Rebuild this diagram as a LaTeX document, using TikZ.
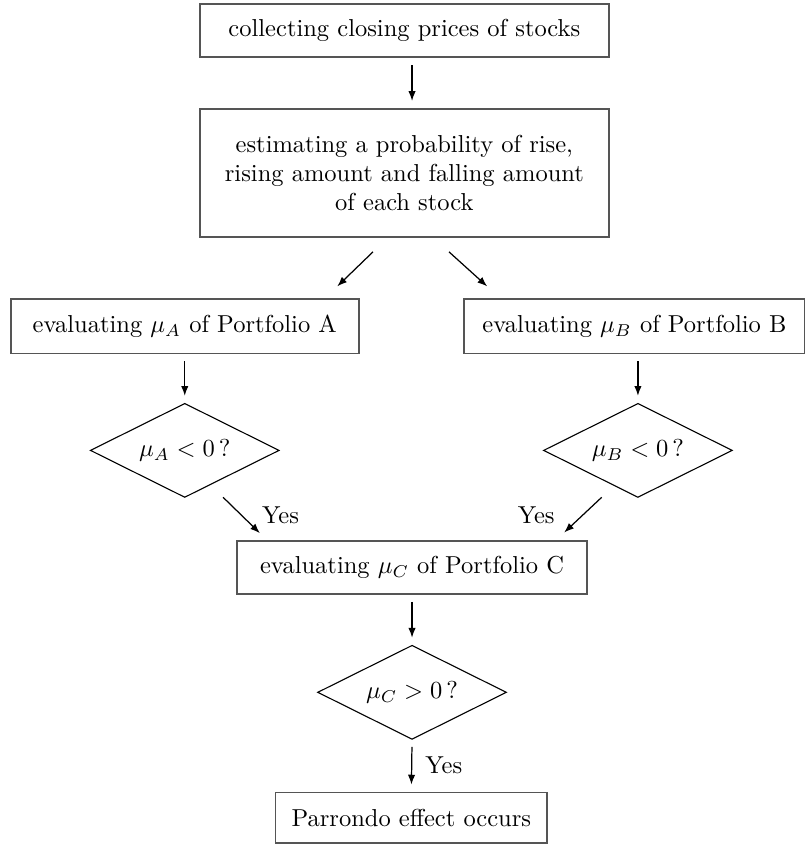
\documentclass[tikz,border=0pt]{standalone}
\usepackage{amsmath}
\usetikzlibrary{shapes.geometric, arrows.meta, positioning}
\definecolor{boxgray}{RGB}{85, 85, 85}

\begin{document}
\begin{tikzpicture}[
    process/.style={rectangle, draw=boxgray, fill=white, line width=0.7pt, align=center, inner sep=2pt, minimum height=0.76cm},
    decision/.style={diamond, draw=black, line width=0.45pt, aspect=2, minimum width=2.71cm, minimum height=1.35cm, inner sep=0pt},
    flow/.style={-{Latex[length=4pt, width=3pt]}, line width=0.5pt, draw=black},
    gap/.style={shorten <=1mm, shorten >=1mm}
  ]
  \useasboundingbox (0, 0) rectangle (11.56, -12.12);

  % Nodes
  \node[process, minimum width=5.87cm] (collect) at (5.80, -0.44) {collecting closing prices of stocks};
  \node[process, minimum width=5.87cm, minimum height=1.84cm] (estimate) at (5.80, -2.48) {estimating a probability of rise,\\ rising amount and falling amount\\ of each stock};
  \node[process, minimum width=4.99cm, minimum height=0.78cm] (evalA) at (2.65, -4.68) {evaluating $\mu_A$ of Portfolio A};
  \node[process, minimum width=4.88cm, minimum height=0.78cm] (evalB) at (9.10, -4.68) {evaluating $\mu_B$ of Portfolio B};
  \node[decision] (testA) at (2.65, -6.46) {$\mu_A<0\,?$};
  \node[decision] (testB) at (9.15, -6.46) {$\mu_B<0\,?$};
  \node[process, minimum width=5.02cm] (evalC) at (5.91, -8.14) {evaluating $\mu_C$ of Portfolio C};
  \node[decision] (testC) at (5.91, -9.93) {$\mu_C>0\,?$};
  \node[process, minimum width=3.90cm, minimum height=0.73cm] (parrondo) at (5.90, -11.73) {Parrondo effect occurs};

  % Edges
  \draw[flow, gap] ([xshift=0.11cm]collect.south) -- ([xshift=0.11cm]estimate.north);
  \draw[flow] ([shift={(-0.45,-0.2)}]estimate.south) -- ([shift={(-0.32,0.17)}]evalA.north east);
  \draw[flow] ([shift={(0.64,-0.2)}]estimate.south) -- ([shift={(0.34,0.17)}]evalB.north west);
  \draw[flow, gap] (evalA.south) -- (testA.north);
  \draw[flow, gap] (testB.north |- evalB.south) -- (testB.north);
  \draw[flow] ([shift={(0.55,0.01)}]testA.south) -- node[right=0.17cm] {Yes} ([shift={(0.34,0.1)}]evalC.north west);
  \draw[flow] ([shift={(-0.52,0.01)}]testB.south) -- node[left=0.28cm] {Yes} ([shift={(-0.34,0.11)}]evalC.north east);
  \draw[flow, gap] (evalC.south) -- (testC.north);
  \draw[flow, gap] (testC.south) -- node[right=0.07cm] {Yes} (parrondo.north);
\end{tikzpicture}
\end{document}
